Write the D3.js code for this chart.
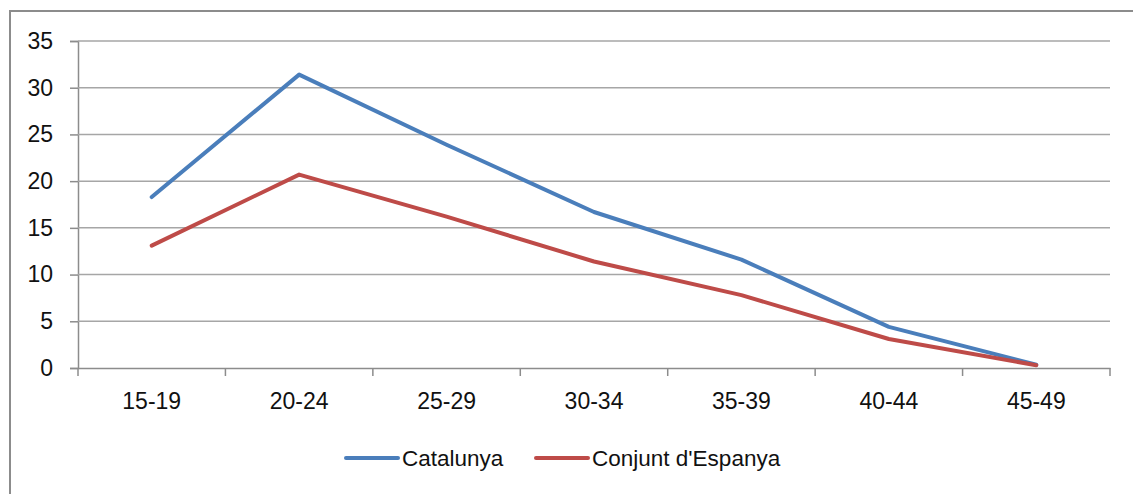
<!DOCTYPE html>
<html>
<head>
<meta charset="utf-8">
<script src="https://cdn.jsdelivr.net/npm/d3@7"></script>
<style>
  body { margin: 0; background: #fff; }
  svg { display: block; font-family: "Liberation Sans", Arial, sans-serif; }
  .axis text { font-size: 23px; fill: #111; }
</style>
</head>
<body>
<div id="chart"></div>
<script>
// age groups
var categories = ['15-19', '20-24', '25-29', '30-34', '35-39', '40-44', '45-49'];
var catalunya = [18.3, 31.4, 23.9, 16.7, 11.6, 4.4, 0.35];
var espanya = [13.1, 20.7, 16.2, 11.4, 7.8, 3.1, 0.3];
var yTicks = [0, 5, 10, 15, 20, 25, 30, 35];
var seriesNames = ['Catalunya', "Conjunt d'Espanya"];

var width = 1133, height = 494;
var margin = { top: 41, right: 23, bottom: 126, left: 78 };

var svg = d3.select('#chart').append('svg')
  .attr('width', width)
  .attr('height', height);

// outer frame
svg.append('rect')
  .attr('x', 10).attr('y', 11)
  .attr('width', 1140).attr('height', 500)
  .attr('fill', 'none')
  .attr('stroke', '#8c8c8c')
  .attr('stroke-width', 2);

var x = d3.scaleBand()
  .domain(categories)
  .range([margin.left, width - margin.right]);

var y = d3.scaleLinear()
  .domain([0, 35])
  .range([height - margin.bottom, margin.top]);

// gridlines + y axis
var yAxis = svg.append('g')
  .attr('class', 'axis')
  .attr('transform', 'translate(' + margin.left + ',0)')
  .call(d3.axisLeft(y)
    .tickValues(yTicks)
    .tickSize(8)
    .tickPadding(17));
yAxis.select('.domain').attr('stroke', '#8c8c8c').attr('stroke-width', 1.5);
yAxis.selectAll('.tick line').attr('stroke', '#8c8c8c').attr('stroke-width', 1.5);

svg.append('g')
  .selectAll('line')
  .data(yTicks.slice(1))
  .enter().append('line')
  .attr('x1', margin.left)
  .attr('x2', width - margin.right)
  .attr('y1', function(d) { return y(d); })
  .attr('y2', function(d) { return y(d); })
  .attr('stroke', '#a6a6a6')
  .attr('stroke-width', 1.5);

// x axis
var xAxis = svg.append('g')
  .attr('class', 'axis')
  .attr('transform', 'translate(0,' + y(0) + ')')
  .call(d3.axisBottom(x).tickSize(0).tickPadding(25));
xAxis.select('.domain').attr('stroke', '#8c8c8c').attr('stroke-width', 1.5);

// x tick marks at band edges
xAxis.selectAll('line.edge')
  .data(categories.concat([null]))
  .enter().append('line')
  .attr('class', 'edge')
  .attr('x1', function(d, i) { return margin.left + i * x.step(); })
  .attr('x2', function(d, i) { return margin.left + i * x.step(); })
  .attr('y1', 0).attr('y2', 8)
  .attr('stroke', '#8c8c8c')
  .attr('stroke-width', 1.5);

var colors = ['#4a7ebb', '#be4b48'];
var line = d3.line()
  .x(function(d, i) { return x(categories[i]) + x.bandwidth() / 2; })
  .y(function(d) { return y(d); });

[catalunya, espanya].forEach(function(s, i) {
  svg.append('path')
    .datum(s)
    .attr('d', line)
    .attr('fill', 'none')
    .attr('stroke', colors[i])
    .attr('stroke-width', 4)
    .attr('stroke-linejoin', 'round')
    .attr('stroke-linecap', 'round');
});

// legend
var legendX = [346, 536];
var legend = svg.append('g');
seriesNames.forEach(function(name, i) {
  legend.append('line')
    .attr('x1', legendX[i]).attr('x2', legendX[i] + 52)
    .attr('y1', 458).attr('y2', 458)
    .attr('stroke', colors[i])
    .attr('stroke-width', 4)
    .attr('stroke-linecap', 'round');
  legend.append('text')
    .attr('x', legendX[i] + 56)
    .attr('y', 466)
    .attr('font-size', 22.5)
    .attr('fill', '#111')
    .text(name);
});
</script>
</body>
</html>
